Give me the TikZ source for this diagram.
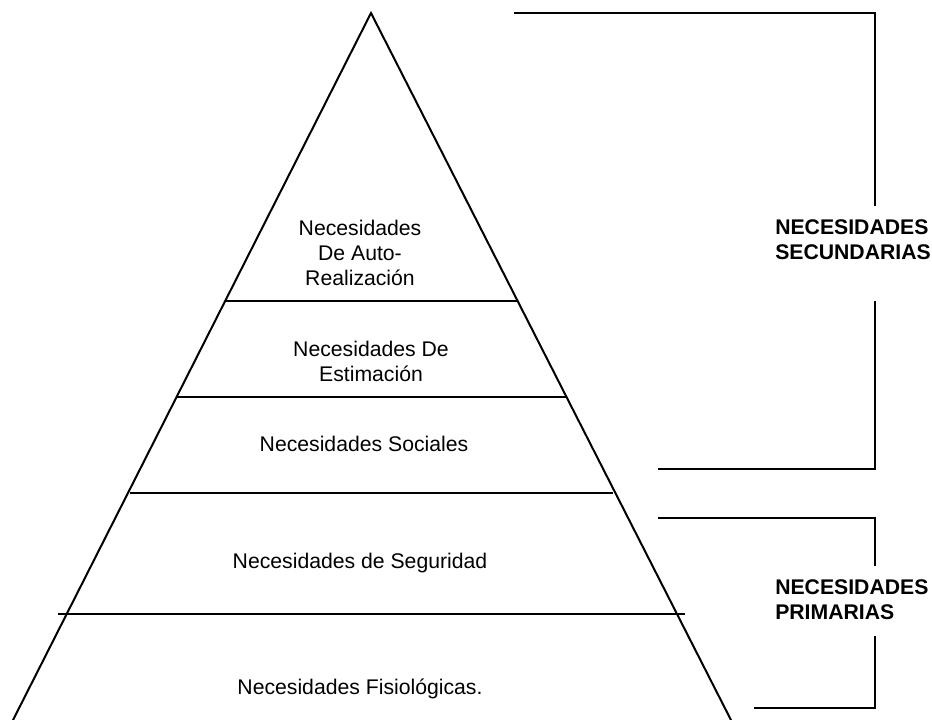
\documentclass[tikz,border=0pt]{standalone}
\usepackage{fontspec}
\setmainfont{Liberation Sans}
\begin{document}
\begin{tikzpicture}[x=0.75pt,y=-0.75pt,
  edge/.style={line width=1.5pt,line cap=rect},
  level/.style={font=\fontsize{15.9}{18.75}\selectfont,align=center,inner sep=0pt},
  group/.style={font=\fontsize{15.9}{18.75}\selectfont\bfseries,align=left,anchor=west,inner sep=0pt}]
\useasboundingbox (0,0) rectangle (932,720);

% pyramid outline
\coordinate (apex) at (371,13);
\coordinate (bl) at (11,724);
\coordinate (br) at (733,724);
\draw[edge] (bl) -- (apex) -- (br);

% level dividers
\draw[edge] (227,301) -- (517,301);
\draw[edge] (178,397) -- (566,397);
\draw[edge] (131,493) -- (612,493);
\draw[edge] (59,614) -- (684,614);

% level labels
\node[level] (l5) at (360,253) {Necesidades\\De Auto-\\Realización};
\node[level] (l4) at (371,361) {Necesidades De\\Estimación};
\node[level] (l3) at (364,444) {Necesidades Sociales};
\node[level] (l2) at (360,563) {Necesidades de Seguridad};
\node[level] (l1) at (360,689) {Necesidades Fisiológicas.};

% secondary needs bracket
\coordinate (s1) at (515,13);
\coordinate (s2) at (875,13);
\coordinate (s3) at (875,205);
\coordinate (s4) at (875,302);
\coordinate (s5) at (875,469);
\coordinate (s6) at (659,469);
\draw[edge] (s1) -- (s2) -- (s3);
\draw[edge] (s4) -- (s5) -- (s6);
\node[group] (sec) at (775,240) {NECESIDADES\\SECUNDARIAS};

% primary needs bracket
\coordinate (p1) at (659,518);
\coordinate (p2) at (875,518);
\coordinate (p3) at (875,565);
\coordinate (p4) at (875,637);
\coordinate (p5) at (875,708);
\coordinate (p6) at (755,708);
\draw[edge] (p1) -- (p2) -- (p3);
\draw[edge] (p4) -- (p5) -- (p6);
\node[group] (pri) at (775,600) {NECESIDADES\\PRIMARIAS};
\end{tikzpicture}
\end{document}
